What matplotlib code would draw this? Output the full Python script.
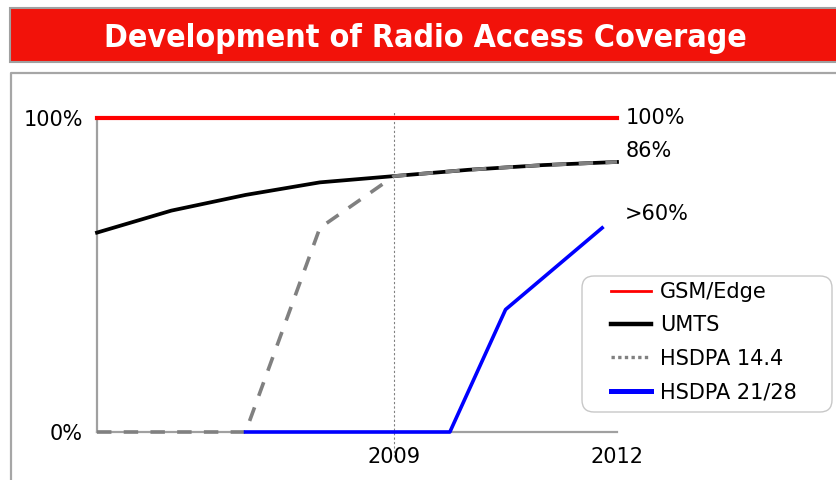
import matplotlib
matplotlib.use("Agg")
import matplotlib.pyplot as plt
from matplotlib.lines import Line2D
from matplotlib.patches import Rectangle, FancyBboxPatch

# coverage in percent
years = [2005, 2006, 2007, 2008, 2009, 2010, 2011, 2012]
gsm = [100, 100, 100, 100, 100, 100, 100, 100]
umts = [63.5, 70.5, 75.5, 79.5, 81.5, 83.5, 85, 86]
hsdpa14 = [0, 0, 0, 65, 81.5, 83.5, 85, 86]
hsdpa21_years = [2007, 2009.75, 2010.5, 2011.8]
hsdpa21 = [0, 0, 39, 65]

series_names = ["GSM/Edge", "UMTS", "HSDPA 14.4", "HSDPA 21/28"]
end_labels = ["100%", "86%", ">60%"]
title = "Development of Radio Access Coverage"

W, H = 8.37, 4.8
fig = plt.figure(figsize=(W, H), dpi=100)
plt.rcParams["font.family"] = ["DejaVu Sans"]

def px(x, y):
    # pixel position from top-left -> inches from bottom-left
    return x / 100.0, (480 - y) / 100.0

inch = fig.dpi_scale_trans

# red title banner
x0, y0 = px(10, 62)
fig.add_artist(Rectangle((x0, y0), 8.5, 0.54, transform=inch,
                         facecolor="#F2120A", edgecolor="#A0A0A0", lw=1.5))
tx, ty = px(425, 47)
fig.text(tx, ty, title, transform=inch, ha="center", va="baseline",
         color="white", fontsize=23, fontweight="bold",
         fontstretch="condensed", family=["DejaVu Sans"])

# panel frame (top and left edges only)
fig.add_artist(Line2D([0.11, 0.11, 8.5], [0, 4.07, 4.07], transform=inch,
                      color="#A6A6A6", lw=1.6))

ax = fig.add_axes([97 / 837, 48 / 480, 520 / 837, 314 / 480])
ax.set_xlim(2005, 2012)
ax.set_ylim(0, 100)
for s in ["top", "right"]:
    ax.spines[s].set_visible(False)
for s in ["left", "bottom"]:
    ax.spines[s].set_color("#A0A0A0")
    ax.spines[s].set_linewidth(1.6)

ax.axvline(2009, ymin=-0.08, ymax=1.02, color="#808080", ls=(0, (2, 2)),
           lw=0.8, clip_on=False, zorder=1)

ax.plot(years, gsm, color="#FF0000", lw=3, clip_on=False, zorder=3)
ax.plot(years, umts, color="black", lw=2.7, clip_on=False, zorder=3)
ax.plot(years, hsdpa14, color="#808080", lw=2.6, ls=(0, (4, 3.4)),
        clip_on=False, zorder=4)
ax.plot(hsdpa21_years, hsdpa21, color="#0000FF", lw=2.6, clip_on=False,
        zorder=5)

ax.set_yticks([0, 100], ["0%", "100%"])
ax.set_xticks([2009, 2012], ["2009", "2012"])
ax.tick_params(axis="both", length=0, labelsize=15)
ax.tick_params(axis="y", pad=10)
ax.tick_params(axis="x", pad=11)

# value labels at the line ends
ax.annotate(end_labels[0], (years[-1], gsm[-1]), xytext=(6, 0),
            textcoords="offset points", va="center", fontsize=15)
ax.annotate(end_labels[1], (years[-1], umts[-1]), xytext=(6, 8),
            textcoords="offset points", va="center", fontsize=15)
ax.annotate(end_labels[2], (hsdpa21_years[-1], hsdpa21[-1]), xytext=(16, 10),
            textcoords="offset points", va="center", fontsize=15)

# legend with rounded box
bx, by = px(582, 412)
fig.add_artist(FancyBboxPatch((bx, by), 2.5, 1.36, transform=inch,
                              boxstyle="round,pad=0,rounding_size=0.12",
                              facecolor="white", edgecolor="#C8C8C8", lw=1,
                              zorder=5))
handles = [
    Line2D([], [], color="#FF0000", lw=2),
    Line2D([], [], color="black", lw=3.2),
    Line2D([], [], color="#808080", lw=2.4, ls=(0, (1, 1))),
    Line2D([], [], color="#0000FF", lw=3.6),
]
lx, ly = px(611, 282)
leg = fig.legend(handles, series_names, loc="upper left",
                 bbox_to_anchor=(lx, ly), bbox_transform=inch,
                 frameon=False, fontsize=15, handlelength=1.9,
                 handletextpad=0.45, labelspacing=0.64, borderpad=0,
                 borderaxespad=0)
leg.set_zorder(6)

fig.savefig("out.png", dpi=100)
